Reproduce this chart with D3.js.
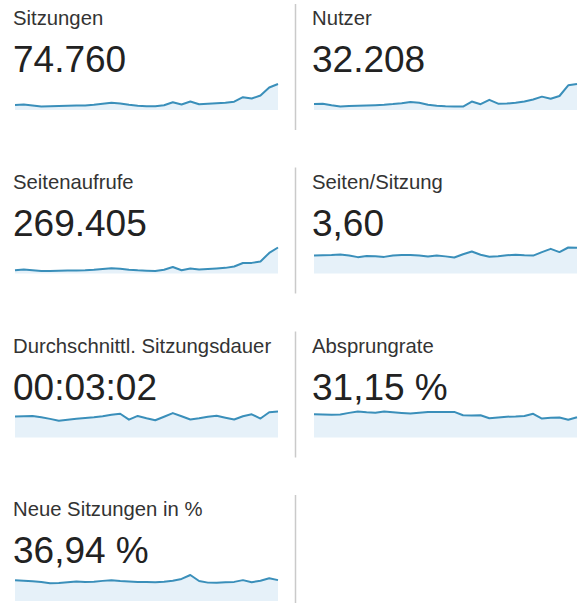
<!DOCTYPE html>
<html>
<head>
<meta charset="utf-8">
<script src="https://cdn.jsdelivr.net/npm/d3@7"></script>
<style>
  body { margin: 0; background: #fff; }
  svg { display: block; font-family: Arial, "Liberation Sans", sans-serif; }
</style>
</head>
<body>
<svg id="chart" width="585" height="603"></svg>
<script>
// kennzahlen (titel + gesamtwert)
var titles = ["Sitzungen", "Nutzer", "Seitenaufrufe", "Seiten/Sitzung",
              "Durchschnittl. Sitzungsdauer", "Absprungrate", "Neue Sitzungen in %"]
var totals = ["74.760", "32.208", "269.405", "3,60", "00:03:02", "31,15 %", "36,94 %"]

var sitzungen = [1631, 1804, 1457, 1145, 1249, 1319, 1388, 1457, 1492, 1735, 2047, 2360, 2082, 1666, 1388,
                 1249, 1180, 1562, 2533, 1804, 2776, 1874, 2013, 2186, 2360, 2707, 4164, 3748, 4685, 7287, 8432]
var nutzer = [855, 900, 675, 495, 570, 600, 645, 690, 750, 840, 975, 1140, 1020, 750, 600,
              540, 510, 495, 1200, 825, 1455, 900, 930, 1020, 1200, 1500, 1905, 1605, 1995, 3525, 3705]
var seitenaufrufe = [4800, 6080, 4800, 3680, 3840, 4160, 4320, 4480, 4800, 5600, 6720, 7680, 6880, 5440, 4640,
                     4160, 3840, 5600, 9600, 4800, 7360, 5920, 6720, 7520, 8320, 10400, 15520, 15680, 17600, 30400, 38400]
var seitenProSitzung = [3.51, 3.57, 3.63, 3.74, 3.53, 3.21, 3.42, 3.40, 3.26, 3.53, 3.61, 3.63, 3.55, 3.32, 3.53,
                        3.36, 3.15, 3.78, 4.31, 3.68, 3.28, 3.40, 3.57, 3.68, 3.57, 3.51, 4.20, 4.83, 4.20, 5.10, 5.04]
var dauer = [185, 187, 189, 178, 164, 148, 157, 165, 171, 178, 187, 200, 209, 157, 190,
             170, 152, 183, 215, 187, 159, 170, 183, 191, 174, 158, 187, 204, 167, 222, 229]
var absprungrate = [31.9, 31.6, 31.0, 31.6, 33.7, 35.6, 34.6, 33.9, 35.6, 34.6, 33.7, 32.8, 33.9, 35.0, 35.0,
                    35.0, 35.0, 30.5, 30.2, 30.5, 26.3, 27.4, 28.5, 28.8, 29.4, 32.5, 26.0, 27.0, 27.4, 24.2, 27.7]
var neueSitzungen = [39.4, 38.4, 37.2, 35.9, 33.6, 33.8, 35.3, 36.9, 36.1, 36.5, 38.0, 39.2, 37.8, 36.9, 35.9,
                     35.7, 35.5, 36.3, 38.4, 41.7, 49.1, 37.8, 34.7, 34.3, 35.3, 36.1, 39.4, 35.5, 38.4, 43.1, 39.4]

var series = [sitzungen, nutzer, seitenaufrufe, seitenProSitzung, dauer, absprungrate, neueSitzungen]

var svg = d3.select("#chart")

var colX = [13, 312]
var rowTop = [0, 163.5, 327.5, 491]
var sparkW = 263, sparkH = 26

//===== trennlinien zwischen den spalten =====
rowTop.forEach(function(t, r){
    svg.append("line")
        .attr("x1", 295.5).attr("x2", 295.5)
        .attr("y1", t + 4).attr("y2", r == 3 ? 603 : t + 130)
        .attr("stroke", "#cacaca")
        .attr("stroke-width", 1.5)
})

//===== panels =====
titles.forEach(function(title, i){
    var col = i % 2
    var row = Math.floor(i / 2)
    var x0 = colX[col]
    var top = rowTop[row]
    var g = svg.append("g")

    g.append("text")
        .attr("x", x0)
        .attr("y", top + 25)
        .attr("font-size", 20.3)
        .attr("fill", "#333")
        .text(title)

    g.append("text")
        .attr("x", x0)
        .attr("y", top + 72)
        .attr("font-size", 37)
        .attr("fill", "#222")
        .text(totals[i])

    var data = series[i]
    var x = d3.scaleLinear()
        .domain([0, data.length - 1])
        .range([x0 + 2, x0 + 2 + sparkW])
    var y = d3.scaleLinear()
        .domain([0, d3.max(data)])
        .range([top + 110, top + 110 - sparkH])

    var area = d3.area()
        .x(function(d, j){ return x(j) })
        .y0(y(0))
        .y1(function(d){ return y(d) })
    var line = d3.line()
        .x(function(d, j){ return x(j) })
        .y(function(d){ return y(d) })

    g.append("path")
        .datum(data)
        .attr("d", area)
        .attr("fill", "#e6f1f9")

    g.append("path")
        .datum(data)
        .attr("d", line)
        .attr("fill", "none")
        .attr("stroke", "#3a8fba")
        .attr("stroke-width", 2)
        .attr("stroke-linejoin", "round")
})
</script>
</body>
</html>
